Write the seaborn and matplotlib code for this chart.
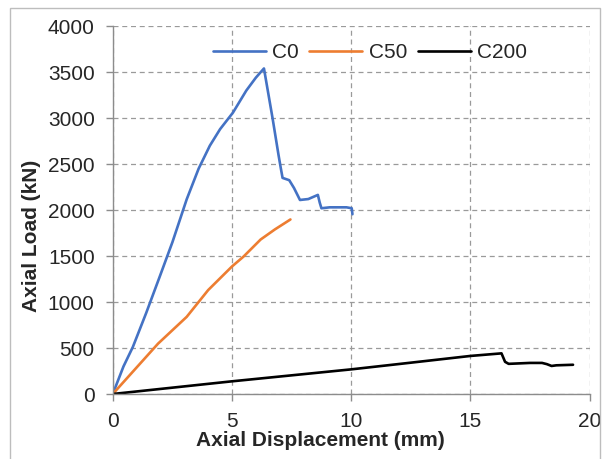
import numpy as np
import pandas as pd
import matplotlib
matplotlib.use("Agg")
import matplotlib.pyplot as plt
import seaborn as sns
from matplotlib.patches import Rectangle

# Kurvenwerte
c0_disp = [0, 0.45, 0.84, 1.4, 1.97, 2.5, 3.1, 3.6, 4.07, 4.5, 5.04, 5.6, 6.0, 6.34,
           6.7, 6.95, 7.05, 7.12, 7.4, 7.6, 7.85, 8.2, 8.6, 8.68, 8.75, 9.1, 9.4, 9.8, 10.02, 10.05]
c0_load = [0, 300, 510, 880, 1277, 1650, 2117, 2450, 2700, 2880, 3060, 3300, 3440, 3540,
           3000, 2600, 2450, 2350, 2325, 2240, 2110, 2120, 2165, 2080, 2020, 2030, 2030, 2030, 2020, 1955]
c50_disp = [0, 1.9, 3.1, 4.0, 5.0, 5.49, 6.2, 6.8, 7.45]
c50_load = [0, 548, 839, 1130, 1387, 1496, 1680, 1790, 1898]
c200_disp = [0, 5, 10, 12.1, 15, 16.3, 16.45, 16.6, 17.5, 18.0, 18.2, 18.4, 18.6, 19.3]
c200_load = [0, 138, 268, 329, 414, 442, 350, 328, 338, 338, 325, 305, 312, 318]
series = ["C0", "C50", "C200"]
colors = ["#4472C4", "#ED7D31", "#000000"]

df = pd.concat([
    pd.DataFrame({"disp": c0_disp, "load": c0_load, "Probe": "C0"}),
    pd.DataFrame({"disp": c50_disp, "load": c50_load, "Probe": "C50"}),
    pd.DataFrame({"disp": c200_disp, "load": c200_load, "Probe": "C200"}),
], ignore_index=True)

sns.set_style("white")
plt.rcParams['font.family'] = ['Liberation Sans', 'DejaVu Sans']

fig = plt.figure(figsize=(6.03, 4.59), dpi=100)
ax = fig.add_axes([0.187, 0.1416, 0.791, 0.8014])

sns.lineplot(data=df, x="disp", y="load", hue="Probe", hue_order=series,
             palette=colors, estimator=None, sort=False, linewidth=1.9, ax=ax)

ax.set_xlim(0, 20)
ax.set_ylim(0, 4000)
ax.set_xticks(np.arange(0, 21, 5))
ax.set_yticks(np.arange(0, 4001, 500))
ax.grid(True, linestyle=(0, (4, 3)), color="#9a9a9a", linewidth=0.9)
for s in ["top", "right"]:
    ax.spines[s].set_visible(False)
for s in ["left", "bottom"]:
    ax.spines[s].set_color("#8c8c8c")
    ax.spines[s].set_linewidth(1.0)
ax.tick_params(axis="both", direction="out", length=5, width=1.0, color="#8c8c8c",
               labelsize=15, left=True, bottom=True)
ax.tick_params(axis="x", pad=8)
ax.tick_params(axis="y", pad=8)
ax.set_xlabel("Axial Displacement (mm)", fontsize=15, fontweight="bold")
ax.set_ylabel("Axial Load (kN)", fontsize=15, fontweight="bold")
ax.xaxis.set_label_coords(0.435, -0.1)
ax.yaxis.set_label_coords(-0.151, 0.43)

ax.legend(loc="center", bbox_to_anchor=(0.539, 0.928), ncol=3, frameon=False,
          fontsize=15, handlelength=2.55, handletextpad=0.3, columnspacing=0.5)

fig.patches.append(Rectangle((0.0166, -0.01), 0.978, 0.9926, transform=fig.transFigure,
                             fill=False, edgecolor="#bdbdbd", linewidth=1.0))

fig.savefig("out.png", dpi=100)
